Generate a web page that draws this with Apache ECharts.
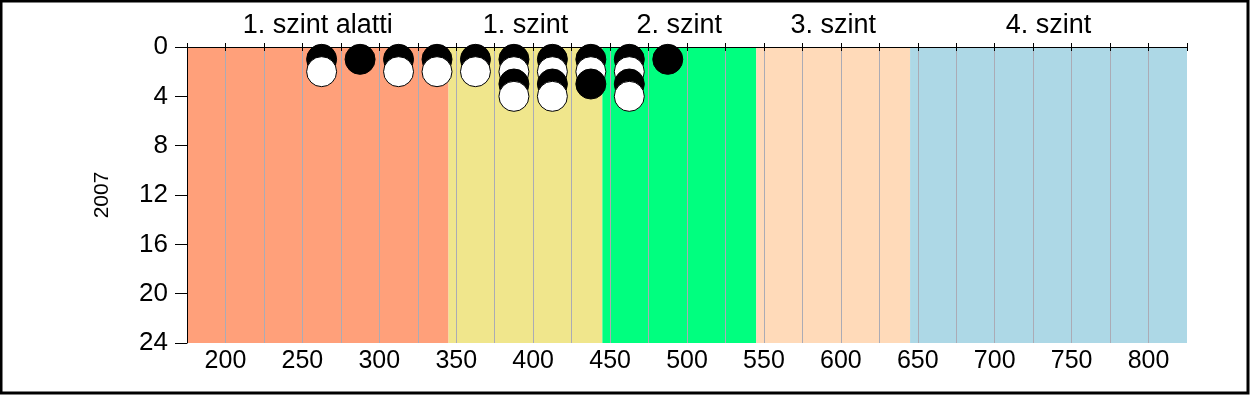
<!DOCTYPE html>
<html>
<head>
<meta charset="utf-8">
<script src="https://cdn.jsdelivr.net/npm/echarts@6/dist/echarts.min.js"></script>
<style>
html,body{margin:0;padding:0;background:#fff;}
#c{width:1250px;height:395px;}
</style>
</head>
<body>
<div id="c"></div>
<script>
// ---- data ----
const binCenters = [262.5, 287.5, 312.5, 337.5, 362.5, 387.5, 412.5, 437.5, 462.5, 487.5];
const counts     = [2, 1, 2, 2, 2, 4, 4, 3, 4, 1];
const bandStarts = [175, 345, 445, 545, 645];
const bandEnds   = [345, 445, 545, 645, 825];
const bandNames  = ['1. szint alatti', '1. szint', '2. szint', '3. szint', '4. szint'];
const bandColors = ['#FFA07A', '#F0E68C', '#00FF7F', '#FFDAB9', '#ADD8E6'];
const yearLabel  = '2007';
const xMin = 175, xMax = 825, xStep = 25, xLabelStep = 50;
const yMin = 0, yMax = 24, yStep = 4;

// dots stacked level by level (odd levels black, even white)
const maxCount = Math.max(...counts);
const dots = [];
for (let lvl = 1; lvl <= maxCount; lvl++) {
  binCenters.forEach((x, i) => {
    if (counts[i] >= lvl) {
      dots.push({
        value: [x, lvl],
        itemStyle: { color: lvl % 2 === 1 ? '#000000' : '#FFFFFF', borderColor: '#000', borderWidth: 1, opacity: 1 }
      });
    }
  });
}

const FONT = '"Liberation Sans", Arial, sans-serif';
const chart = echarts.init(document.getElementById('c'), null, { renderer: 'canvas' });
chart.setOption({
  animation: false,
  backgroundColor: '#fff',
  grid: { left: 187, right: 63, top: 47, bottom: 52, containLabel: false },
  xAxis: [{
    type: 'value', position: 'bottom', min: xMin, max: xMax, interval: xStep, z: 3,
    axisLine: { show: true, lineStyle: { color: '#000', width: 1 } },
    axisTick: { show: true, length: 4, lineStyle: { color: '#000' } },
    axisLabel: {
      margin: 6, color: '#000', fontSize: 25, fontFamily: FONT,
      formatter: v => (v % xLabelStep === 0 ? String(v) : '')
    },
    splitLine: { show: true, showMinLine: false, showMaxLine: false, lineStyle: { color: '#ABABB5', width: 1 } }
  }, {
    type: 'value', position: 'top', min: xMin, max: xMax, interval: xStep, z: 3,
    axisLine: { show: true, lineStyle: { color: '#000', width: 1 } },
    axisTick: { show: true, length: 4, lineStyle: { color: '#000' } },
    axisLabel: { show: false },
    splitLine: { show: false }
  }],
  yAxis: {
    type: 'value', inverse: true, min: yMin, max: yMax, interval: yStep, z: 3,
    name: yearLabel, nameLocation: 'middle', nameGap: 74, nameRotate: 90,
    nameTextStyle: { color: '#000', fontSize: 21, fontFamily: FONT },
    axisLine: { show: true, lineStyle: { color: '#000', width: 1 } },
    axisTick: { show: true, length: 12, lineStyle: { color: '#000' } },
    axisLabel: { margin: 19, color: '#000', fontSize: 26, fontFamily: FONT },
    splitLine: { show: false }
  },
  graphic: [{
    type: 'rect', z: 100, silent: true,
    shape: { x: 1, y: 1, width: 1247, height: 392 },
    style: { fill: 'none', stroke: '#000', lineWidth: 3 }
  }],
  series: [{
    type: 'scatter', z: 1, data: [], silent: true,
    markArea: {
      silent: true,
      label: { show: true, position: 'top', distance: 8, color: '#000', fontSize: 27, fontFamily: FONT },
      data: bandStarts.map((s, i) => [
        { name: bandNames[i], xAxis: s, itemStyle: { color: bandColors[i], opacity: 1 } },
        { xAxis: bandEnds[i] }
      ])
    }
  }, {
    type: 'scatter', z: 5, symbol: 'circle', symbolSize: 30,
    itemStyle: { opacity: 1 },
    emphasis: { disabled: true },
    data: dots
  }]
});
</script>
</body>
</html>
